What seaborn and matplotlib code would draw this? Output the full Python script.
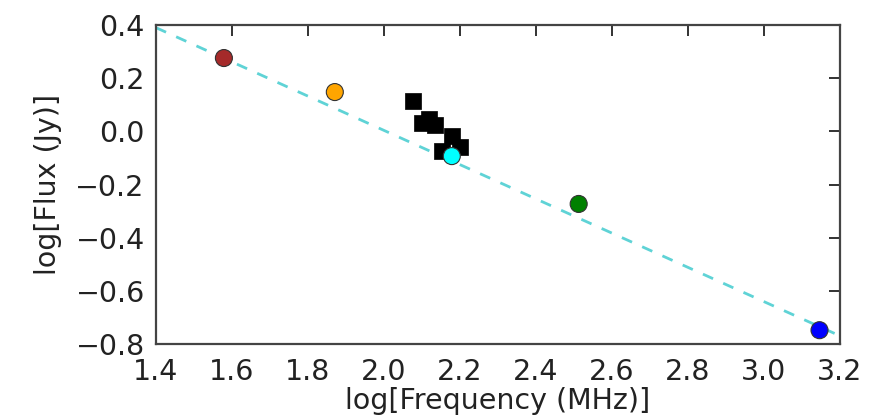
import numpy as np
import pandas as pd
import matplotlib
matplotlib.use("Agg")
import matplotlib.pyplot as plt
import seaborn as sns

# Individual survey measurements (log frequency in MHz, log flux in Jy)
survey_names = ["VLSS", "6C", "GMRT", "WENSS", "NVSS"]
survey_logfreq = [1.579, 1.871, 2.179, 2.513, 3.147]
survey_logflux = [0.276, 0.148, -0.093, -0.273, -0.748]
survey_colors = ["#a52a2a", "#ffa500", "#00ffff", "#008000", "#0000ff"]

# Multi-channel band measurements
band_logfreq = [2.076, 2.100, 2.118, 2.134, 2.153, 2.179, 2.200]
band_logflux = [0.114, 0.031, 0.046, 0.024, -0.074, -0.018, -0.059]

# Power-law fit: log S = intercept + slope * log nu
fit_slope = -0.644
fit_intercept = 1.292

sns.set_style("white")
plt.rcParams.update({
    "font.family": ["DejaVu Sans"],
    "xtick.direction": "in",
    "ytick.direction": "in",
    "xtick.top": True,
    "ytick.right": True,
    "xtick.major.size": 8,
    "ytick.major.size": 8,
    "xtick.major.pad": 10,
    "ytick.major.pad": 8,
})

fig = plt.figure(figsize=(8.71, 4.18), dpi=100)
ax = fig.add_axes([0.179, 0.177, 0.785, 0.763])

fit_x = np.linspace(1.4, 3.2, 50)
fit_df = pd.DataFrame({"x": fit_x, "y": fit_intercept + fit_slope * fit_x})
sns.lineplot(data=fit_df, x="x", y="y", ax=ax, color="#5fd3d6",
             linestyle=(0, (4, 4)), linewidth=2, zorder=1)

band_df = pd.DataFrame({"x": band_logfreq, "y": band_logflux})
sns.scatterplot(data=band_df, x="x", y="y", ax=ax, marker="s", s=120,
                color="black", edgecolor="black", linewidth=0.5, zorder=3)

survey_df = pd.DataFrame({"x": survey_logfreq, "y": survey_logflux,
                          "survey": survey_names})
sns.scatterplot(data=survey_df, x="x", y="y", hue="survey",
                palette=dict(zip(survey_names, survey_colors)),
                ax=ax, s=150, edgecolor="#333333", linewidth=0.8,
                legend=False, zorder=4)

ax.set_xlim(1.4, 3.2)
ax.set_ylim(-0.8, 0.4)
ax.set_xticks(np.arange(1.4, 3.21, 0.2))
ax.set_yticks(np.arange(-0.8, 0.41, 0.2))
ax.xaxis.set_major_formatter(matplotlib.ticker.FormatStrFormatter("%.1f"))
ax.yaxis.set_major_formatter(matplotlib.ticker.FuncFormatter(
    lambda v, p: ("%.1f" % v).replace("-", "\u2212") if abs(v) > 1e-9 else "0.0"))
ax.tick_params(labelsize=20.5, colors="#222222", width=1.3)
for s in ax.spines.values():
    s.set_color("#444444")
    s.set_linewidth(1.6)

ax.set_xlabel("log[Frequency (MHz)]", fontsize=20.5, color="#222222", labelpad=1)
ax.set_ylabel("log[Flux (Jy)]", fontsize=20.5, color="#222222", labelpad=10)

fig.savefig("out.png", dpi=100)
